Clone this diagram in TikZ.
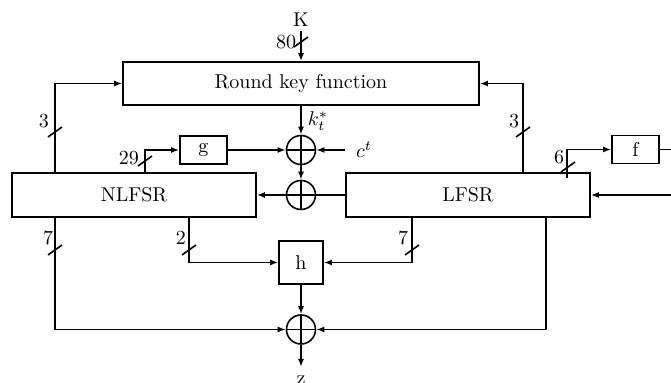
\documentclass[tikz,border=0pt]{standalone}
\usetikzlibrary{arrows.meta,calc}
\begin{document}
\begin{tikzpicture}[x=0.5pt,y=-0.5pt, line width=0.8pt,
  >={Latex[length=4pt,width=3pt]},
  box/.style n args={2}{draw, minimum width=#1, minimum height=#2, inner sep=0pt},
  xorgate/.style={draw, circle, minimum size=14.5pt, inner sep=0pt,
    path picture={\draw (path picture bounding box.north) -- (path picture bounding box.south)
      (path picture bounding box.west) -- (path picture bounding box.east);}},
  lbl/.style={inner sep=0pt},
  busmark/.pic={\draw (-7,5) -- (7,-5);}]
\useasboundingbox (0,0) rectangle (671,383);
\clip (0,0) rectangle (671,383);
% boxes
\node[box={178pt}{21.5pt}] (rk) at (301,83.5) {Round key function};
\node[box={122pt}{22pt}] (nlfsr) at (134,195) {NLFSR};
\node[box={122pt}{22pt}] (lfsr) at (468,195) {LFSR};
\node[box={23.5pt}{14pt}] (g) at (203.5,150) {g};
\node[box={23.5pt}{14pt}] (f) at (635.5,149.5) {f};
\node[box={22pt}{21.5pt}] (h) at (301,262.5) {h};
\node[xorgate] (x1) at (301,150) {};
\node[xorgate] (x2) at (301,195) {};
\node[xorgate] (x3) at (301,329.5) {};
% labels
\node[lbl] (K) at (301,20) {K};
\node[lbl] (l80) at (286,42) {80};
\node[lbl] (l3a) at (44,121) {3};
\node[lbl] (l3b) at (514,121) {3};
\node[lbl] (kt) at (318,121) {$k_t^*$};
\node[lbl] (l29) at (129,158) {29};
\node[lbl] (ct) at (364,150) {$c^t$};
\node[lbl] (l6) at (559,157) {6};
\node[lbl] (l7a) at (48,238) {7};
\node[lbl] (l2) at (181,238) {2};
\node[lbl] (l7b) at (403,238) {7};
\node[lbl] (z) at (301,380) {z};
% coordinates
\coordinate (n3) at (55,173);
\coordinate (l3) at (523,173);
\coordinate (n29) at (145,173);
\coordinate (l6s) at (567,178);
\coordinate (l6t) at (567,149.5);
\coordinate (n7) at (55,217);
\coordinate (n2) at (189,217);
\coordinate (l7) at (412,217);
\coordinate (l7c) at (546,217);
\coordinate (ctin) at (345,150);
\coordinate (fout) at (680,149.5);
\coordinate (lfsrin) at (680,195);
\coordinate (zout) at (301,367);
\coordinate (Kin) at (301,31);
% connectors
\draw[->] (Kin) -- (rk.north);
\pic at (301,42) {busmark};
\draw[->] (n3) |- (rk.west);
\pic at (55,132) {busmark};
\draw[->] (l3) |- (rk.east);
\pic at (523,132) {busmark};
\draw[->] (rk.south) -- (x1.north);
\draw[->] (n29) |- (g.west);
\pic at (145,161) {busmark};
\draw[->] (g.east) -- (x1.west);
\draw[->] (ctin) -- (x1.east);
\draw[->] (x1.south) -- (x2.north);
\draw (lfsr.west) -- (x2.east);
\draw[->] (x2.west) -- (nlfsr.east);
\draw[->] (l6s) -- (l6t) -- (f.west);
\pic at (568,167) {busmark};
\draw (f.east) -- (fout);
\draw[->] (lfsrin) -- (lfsr.east);
\draw[->] (n7) |- (x3.west);
\pic at (55,250) {busmark};
\draw[->] (n2) |- (h.west);
\pic at (189,250) {busmark};
\draw[->] (l7) |- (h.east);
\pic at (412,250) {busmark};
\draw[->] (l7c) |- (x3.east);
\draw[->] (h.south) -- (x3.north);
\draw[->] (x3.south) -- (zout);
\end{tikzpicture}
\end{document}
